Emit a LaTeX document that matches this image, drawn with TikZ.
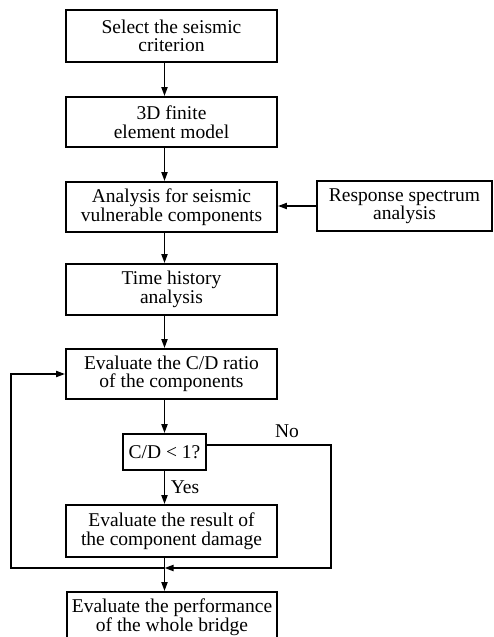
\documentclass[tikz,border=0pt]{standalone}
\usepackage{fontspec}
\setmainfont{Liberation Serif}
\usetikzlibrary{arrows.meta}
\begin{document}
\begin{tikzpicture}[x=1pt,y=-1pt,
  box/.style={draw,line width=1.8pt,inner sep=0pt,align=center,minimum width=211pt,minimum height=50pt,font=\fontsize{19.5}{18.5}\selectfont},
  lbl/.style={inner sep=0pt,font=\fontsize{19.5}{18.5}\selectfont},
  arr/.style={line width=1.8pt,-{Triangle[length=9pt,width=6pt]}},
  ln/.style={line width=1.8pt}]
\useasboundingbox (0,0) rectangle (493,637);
\begin{scope}
\clip (0,0) rectangle (493,637);
\node[box,minimum height=52pt] (b1) at (171.5,36) {Select the seismic\\criterion};
\node[box] (b2) at (171.5,122) {3D finite\\element model};
\node[box] (b3) at (171.5,207) {Analysis for seismic\\vulnerable components};
\node[box,minimum width=175pt] (rs) at (404.5,206) {Response spectrum\\analysis};
\node[box,minimum height=51pt] (b4) at (171.5,289.5) {Time history\\analysis};
\node[box] (b5) at (171.5,374) {Evaluate the C/D ratio\\of the components};
\node[box,minimum width=83pt,minimum height=36pt] (dec) at (164.5,452) {C/D < 1?};
\node[box,minimum height=52pt] (b6) at (171.5,531) {Evaluate the result of\\the component damage};
\node[box,minimum width=210pt] (b7) at (172,617) {Evaluate the performance\\of the whole bridge};
\end{scope}
\node[lbl] (no) at (287,431) {No};
\node[lbl] (yes) at (185,487) {Yes};
\coordinate (j) at (164.5,568);
\coordinate (L) at (11,568);
\coordinate (R) at (331,445);
\draw[arr] (b1.south -| dec) -- (b2.north -| dec);
\draw[arr] (b2.south -| dec) -- (b3.north -| dec);
\draw[arr] (b3.south -| dec) -- (b4.north -| dec);
\draw[arr] (b4.south -| dec) -- (b5.north -| dec);
\draw[arr] (rs.west) -- (rs.west -| b3.east);
\draw[arr] (b5.south -| dec) -- (dec.north);
\draw[arr] (dec.south) -- (b6.north -| dec);
\draw[arr] (b6.south -| dec) -- (b7.north -| dec);
\draw[arr] (j) -- (L) |- (b5.west);
\draw[arr] (dec.east |- R) -- (R) -- (R |- j) -- (j);
\end{tikzpicture}
\end{document}
